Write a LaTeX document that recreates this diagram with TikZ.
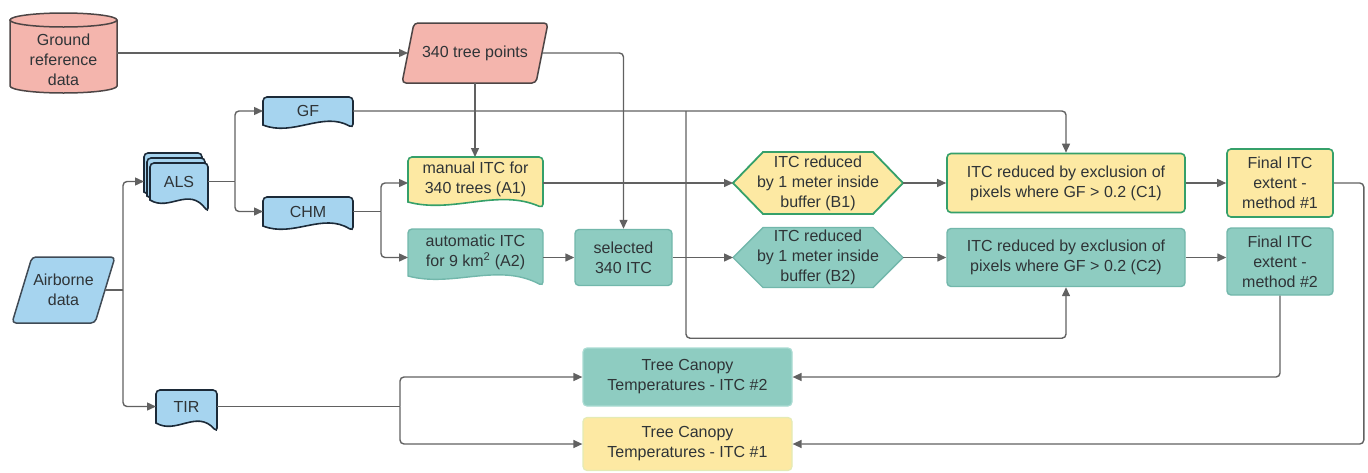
\documentclass[tikz,border=0pt]{standalone}
\usepackage{fontspec}
\setmainfont{Liberation Sans}
\usetikzlibrary{calc,arrows.meta}
\pgfdeclarelayer{bg}
\pgfsetlayers{bg,main}
\definecolor{pinkF}{HTML}{F4B5AD}
\definecolor{pinkD}{HTML}{4D4545}
\definecolor{blueF}{HTML}{A6D4EF}
\definecolor{blueD}{HTML}{1C2A38}
\definecolor{airD}{HTML}{3F4A55}
\definecolor{yelF}{HTML}{FDE9A3}
\definecolor{grn}{HTML}{35A06A}
\definecolor{tealF}{HTML}{8ECCC1}
\definecolor{tealD}{HTML}{72B7AB}
\definecolor{tealL}{HTML}{A9DBD2}
\definecolor{yelL}{HTML}{E4EBB5}
\definecolor{textc}{HTML}{2F3437}
\definecolor{linec}{HTML}{616161}
\tikzset{
  txt/.style={font=\fontsize{16}{20}\selectfont, text=textc, align=center, inner sep=0pt},
  ghost/.style={txt, outer sep=0pt, draw=none},
  box/.style={txt, rounded corners=4pt, line width=1.6pt},
  ybox/.style={box, fill=yelF, draw=grn},
  tbox/.style={box, fill=tealF, draw=tealD, line width=1.4pt},
  bluedoc/.style={fill=blueF, draw=blueD, line width=1.6pt},
  yeldoc/.style={fill=yelF, draw=grn, line width=1.6pt},
  tealdoc/.style={fill=tealF, draw=tealD, line width=1.4pt},
  pinkshape/.style={fill=pinkF, draw=pinkD, line width=1.5pt, rounded corners=4pt},
  conn/.style={draw=linec, line width=1.4pt, rounded corners=4pt},
  arr/.style={conn, -{Triangle[length=9pt,width=8pt]}}
}
\newcommand\docpath[6]{%
  \path[#1] (#2,#5) [rounded corners=4pt] -- (#2,#3) -- (#4,#3) -- (#4,{#5+#6}) [sharp corners]
    .. controls ({#2+2*(#4-#2)/3},{#5-14}) and ({#2+(#4-#2)/3},{#5+12}) .. (#2,#5) -- cycle;}
\newcommand\docnode[8]{%
  \node[ghost, minimum width={#4-#2}, minimum height={#5-#3}] (#1) at ({(#2+#4)/2},{(#3+#5)/2}) {#8};
  \begin{pgfonlayer}{bg}\docpath{#7}{#2}{#3}{#4}{#5}{#6}\end{pgfonlayer}}
\begin{document}
\begin{tikzpicture}[x=1pt,y=-1pt]
\useasboundingbox (0,0) rectangle (1368,472);

% ---- ground reference (cylinder)
\node[ghost, minimum width=107, minimum height=80] (ground) at (63.5,53) {};
\node[txt] (groundtxt) at (63.5,60) {Ground\\reference\\data};
\begin{pgfonlayer}{bg}
\path[fill=pinkF, draw=pinkD, line width=1.5pt] ([yshift=-7pt]ground.north west) -- ([yshift=7pt]ground.south west)
  arc[start angle=180, end angle=360, x radius=53.5pt, y radius=7pt] -- ([yshift=-7pt]ground.north east);
\path[fill=pinkF, draw=pinkD, line width=1.5pt] ([yshift=-7pt]ground.north) ellipse [x radius=53.5pt, y radius=7pt];
\end{pgfonlayer}

% ---- 340 tree points (parallelogram)
\node[ghost, minimum width=134, minimum height=60] (tp) at (475,53) {340 tree points};
\begin{pgfonlayer}{bg}
\path[pinkshape] ([xshift=6pt]tp.north west) -- ([xshift=6pt]tp.north east) -- ([xshift=-6pt]tp.south east) -- ([xshift=-6pt]tp.south west) -- cycle;
\end{pgfonlayer}

% ---- Airborne data (parallelogram)
\node[ghost, minimum width=83, minimum height=66] (air) at (63.5,290) {Airborne\\data};
\begin{pgfonlayer}{bg}
\path[fill=blueF, draw=airD, line width=1.5pt, rounded corners=4pt] ([xshift=10pt]air.north west) -- ([xshift=10pt]air.north east) -- ([xshift=-10pt]air.south east) -- ([xshift=-10pt]air.south west) -- cycle;
\end{pgfonlayer}

% ---- documents
\docnode{gf}{263}{97}{353}{125}{3}{bluedoc}{GF}
\docnode{chm}{263}{197}{353}{226}{5}{bluedoc}{CHM}
\docnode{tir}{156}{390}{217}{423}{9}{bluedoc}{TIR}
\begin{pgfonlayer}{bg}
\docpath{bluedoc}{144}{153}{202}{192}{12}
\docpath{bluedoc}{147}{158}{205}{196}{12}
\docpath{bluedoc}{150}{163}{208}{200}{12}
\end{pgfonlayer}
\node[ghost, minimum width=58, minimum height=37] (als) at (179,181.5) {ALS};
\docnode{a1}{408}{157}{543}{202}{6}{yeldoc}{manual ITC for\\340 trees (A1)}
\docnode{a2}{408}{229}{543}{276}{10}{tealdoc}{automatic ITC\\for 9 km\textsuperscript{2} (A2)}

% ---- boxes
\node[tbox, minimum width=97, minimum height=56] (sel) at (623.5,257.5) {selected\\340 ITC};

\node[ghost, minimum width=170, minimum height=62] (b1) at (818,183) {ITC reduced\\by 1 meter inside\\buffer (B1)};
\node[ghost, minimum width=170, minimum height=60] (b2) at (818,257.5) {ITC reduced\\by 1 meter inside\\buffer (B2)};
\begin{pgfonlayer}{bg}
\path[yeldoc, line width=1.8pt] (b1.west) -- ([xshift=30pt]b1.north west) -- ([xshift=-30pt]b1.north east) -- (b1.east) -- ([xshift=-30pt]b1.south east) -- ([xshift=30pt]b1.south west) -- cycle;
\path[tealdoc] (b2.west) -- ([xshift=30pt]b2.north west) -- ([xshift=-30pt]b2.north east) -- (b2.east) -- ([xshift=-30pt]b2.south east) -- ([xshift=30pt]b2.south west) -- cycle;
\end{pgfonlayer}

\node[ybox, minimum width=238, minimum height=59] (c1) at (1066,183) {ITC reduced by exclusion of\\pixels where GF > 0.2 (C1)};
\node[tbox, minimum width=238, minimum height=58] (c2) at (1066,257.5) {ITC reduced by exclusion of\\pixels where GF > 0.2 (C2)};
\node[ybox, minimum width=106, minimum height=68] (f1) at (1280,183) {Final ITC\\extent -\\method \#1};
\node[tbox, minimum width=106, minimum height=67] (f2) at (1280,261.5) {Final ITC\\extent -\\method \#2};
\node[box, fill=tealF, draw=tealL, line width=1.2pt, minimum width=209, minimum height=58] (t2) at (687.5,377) {Tree Canopy\\Temperatures - ITC \#2};
\node[box, fill=yelF, draw=yelL, line width=1.2pt, minimum width=209, minimum height=53] (t1) at (687.5,444) {Tree Canopy\\Temperatures - ITC \#1};

% ---- connectors
\draw[arr] (ground.east) -- (tp.west);
\draw[arr] (tp.east) -| (sel.north);
\draw[arr] (tp.south) -- (tp.south |- a1.north);

\coordinate (bA) at ($(air.east)+(18,0)$);
\draw[conn] (air.east) -- (bA);
\draw[arr] (bA) |- ([xshift=-6pt]als.west);
\draw[arr] (bA) |- (tir.west);

\coordinate (bB) at ($(als.east)+(27,0)$);
\draw[conn] (als.east) -- (bB);
\draw[arr] (bB) |- (gf.west);
\draw[arr] (bB) |- (chm.west);

\coordinate (bC) at ($(chm.east)+(28,0)$);
\draw[conn] (chm.east) -- (bC);
\draw[arr] (bC) |- (a1.west |- b1.west);
\draw[arr] (bC) |- (a2.west |- sel.west);

\draw[arr] (a1.east |- b1.west) -- (b1.west);
\draw[arr] (a2.east |- sel.west) -- (sel.west);
\draw[arr] (sel.east) -- (b2.west);
\draw[arr] (b1.east) -- (c1.west);
\draw[arr] (b2.east) -- (c2.west);
\draw[arr] (c1.east) -- (f1.west);
\draw[arr] (c2.east) -- (c2.east -| f2.west);

\coordinate (gJ) at ($(gf.east)+(333,0)$);
\coordinate (gB) at ($(c2.south)+(0,51)$);
\draw[arr] (gf.east) -| (c1.north);
\draw[arr] (gJ) |- (gB) -- (c2.south);

\coordinate (bT) at ($(tir.east)+(183,0)$);
\draw[conn] (tir.east) -- (bT);
\draw[arr] (bT) |- (t2.west);
\draw[arr] (bT) |- (t1.west);

\draw[arr] (f2.south) |- (t2.east);
\coordinate (fR) at ($(f1.east)+(30,0)$);
\draw[arr] (f1.east) -- (fR) |- (t1.east);
\end{tikzpicture}
\end{document}
